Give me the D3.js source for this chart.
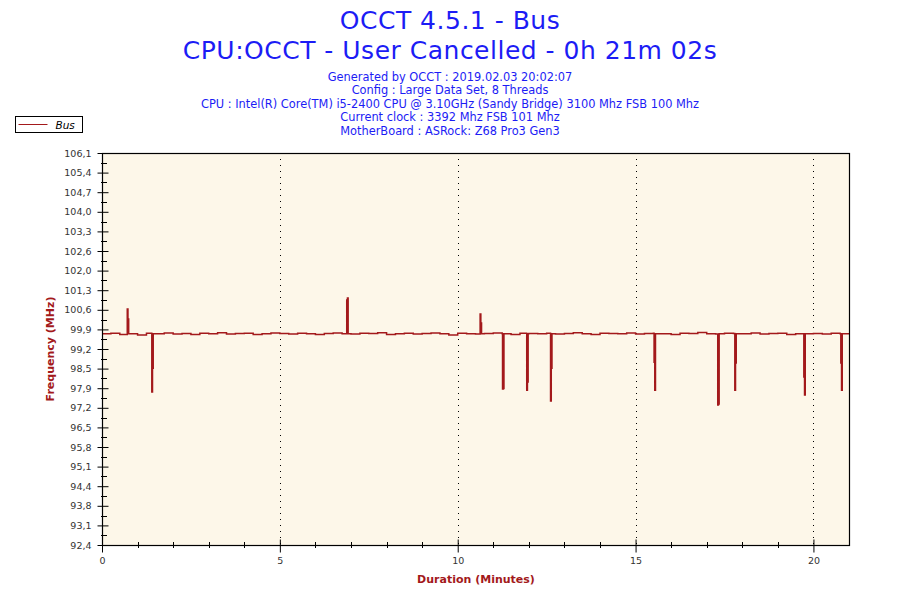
<!DOCTYPE html>
<html>
  <head>
    <style>
      body { margin: 0; background: #fff; }
      svg text { font-family: "DejaVu Sans", sans-serif; }
    </style>
  </head>
  <body>
    <script src="https://d3js.org/d3.v7.min.js"></script>
    <script>
// titles
const TITLES = ['OCCT 4.5.1 - Bus', 'CPU:OCCT - User Cancelled - 0h 21m 02s'];
const SUBTITLES = [
  'Generated by OCCT : 2019.02.03 20:02:07',
  'Config : Large Data Set, 8 Threads',
  'CPU : Intel(R) Core(TM) i5-2400 CPU @ 3.10GHz (Sandy Bridge) 3100 Mhz FSB 100 Mhz',
  'Current clock : 3392 Mhz FSB 101 Mhz',
  'MotherBoard : ASRock: Z68 Pro3 Gen3'
];

// axes
const Y_LABELS = ['92,4','93,1','93,8','94,4','95,1','95,8','96,5','97,2','97,9','98,5','99,2',
  '99,9','100,6','101,3','102,0','102,6','103,3','104,0','104,7','105,4','106,1'];
const Y_MIN = 92.4, Y_MAX = 106.1;
const X_LABELS = [0, 5, 10, 15, 20];
const X_MAX = 21.0;

// bus frequency (MHz), one reading every 0.25 min
const SAMPLE_STEP = 0.25;
const BASE_FREQ = [
  99.78,99.80,99.76,99.79,99.74,99.80,99.78,99.81,99.77,99.79,
  99.76,99.80,99.78,99.82,99.77,99.79,99.80,99.76,99.78,99.81,
  99.79,99.77,99.80,99.78,99.76,99.79,99.81,99.78,99.77,99.80,
  99.79,99.82,99.76,99.78,99.80,99.77,99.79,99.81,99.78,99.74,
  99.80,99.78,99.77,99.79,99.81,99.78,99.76,99.80,99.79,99.78,
  99.80,99.77,99.79,99.82,99.78,99.76,99.80,99.79,99.78,99.81,
  99.77,99.79,99.80,99.78,99.76,99.80,99.79,99.83,99.78,99.77,
  99.80,99.79,99.78,99.81,99.77,99.79,99.80,99.76,99.78,99.80,
  99.79,99.77,99.80,99.78,99.79
];

// short glitches: time (min), first reading, second reading
const SPIKE_TIME   = [0.71, 1.40, 6.88, 10.63, 11.26, 11.94, 12.61, 15.52, 17.31, 17.79, 19.73, 20.77];
const SPIKE_FIRST  = [100.65, 97.75, 100.96, 100.47, 97.85, 97.81, 97.43, 98.79, 97.29, 97.81, 98.27, 98.76];
const SPIKE_SECOND = [100.30, 98.58, 101.03, 100.16, 97.87, 98.10, 98.58, 97.81, 97.33, 98.76, 97.64, 97.81];
const SPIKE_REST = 99.78;

const W = 900, H = 600;
const M = { left: 102, right: 849, top: 153, bottom: 545 };
const RED = '#a3191b';
const BLUE = '#1c1cf5';

const svg = d3.select('body').append('svg').attr('width', W).attr('height', H);

// build the series
let points = BASE_FREQ.map((v, i) => ({ t: i * SAMPLE_STEP, v: v }));
SPIKE_TIME.forEach((t, i) => {
  points.push({ t: t, v: SPIKE_FIRST[i] });
  points.push({ t: t + 0.02, v: SPIKE_SECOND[i] });
  points.push({ t: t + 0.04, v: SPIKE_REST });
});
points.sort((a, b) => a.t - b.t);

const x = d3.scaleLinear().domain([0, X_MAX]).range([M.left, M.right]);
const y = d3.scaleLinear().domain([Y_MIN, Y_MAX]).range([M.bottom, M.top]);
const yStep = (Y_MAX - Y_MIN) / (Y_LABELS.length - 1);
const yTicks = Y_LABELS.map((d, i) => Y_MIN + i * yStep);

// titles
svg.selectAll('.title')
  .data(TITLES)
  .enter().append('text')
  .attr('x', W / 2)
  .attr('y', (d, i) => 29 + i * 30)
  .attr('text-anchor', 'middle')
  .attr('font-size', 25)
  .attr('letter-spacing', 0.5)
  .attr('fill', BLUE)
  .text(d => d);

svg.selectAll('.sub')
  .data(SUBTITLES)
  .enter().append('text')
  .attr('x', W / 2)
  .attr('y', (d, i) => 80.5 + i * 13.6)
  .attr('text-anchor', 'middle')
  .attr('font-size', 11.4)
  .attr('fill', BLUE)
  .text(d => d);

// legend
const leg = svg.append('g').attr('transform', 'translate(15.5,116.5)');
leg.append('rect').attr('width', 67).attr('height', 16).attr('fill', '#fff').attr('stroke', '#000');
leg.append('line').attr('x1', 3).attr('x2', 32).attr('y1', 8).attr('y2', 8).attr('stroke', RED);
leg.append('text').attr('x', 40).attr('y', 12).attr('font-size', 10.5).attr('font-style', 'italic').text('Bus');

// plot area
svg.append('rect')
  .attr('x', M.left).attr('y', M.top)
  .attr('width', M.right - M.left).attr('height', M.bottom - M.top)
  .attr('fill', '#fdf7e9');

// vertical dotted grid
svg.append('g').selectAll('line')
  .data(X_LABELS.filter(d => d > 0))
  .enter().append('line')
  .attr('x1', d => Math.round(x(d)) + 0.5).attr('x2', d => Math.round(x(d)) + 0.5)
  .attr('y1', M.top).attr('y2', M.bottom)
  .attr('stroke', '#000')
  .attr('stroke-dasharray', '1,5');

// series
const line = d3.line().curve(d3.curveStepAfter).x(d => x(d.t)).y(d => y(d.v));
svg.append('path')
  .datum(points)
  .attr('fill', 'none')
  .attr('stroke', RED)
  .attr('stroke-width', 1.5)
  .attr('d', line);

// frame
svg.append('rect')
  .attr('x', M.left + 0.5).attr('y', M.top + 0.5)
  .attr('width', M.right - M.left).attr('height', M.bottom - M.top)
  .attr('fill', 'none').attr('stroke', '#000').attr('stroke-width', 1.2);

// y axis
const yAxis = d3.axisLeft(y)
  .tickValues(yTicks)
  .tickFormat((d, i) => Y_LABELS[i])
  .tickSize(5)
  .tickPadding(6);
const gy = svg.append('g').attr('transform', `translate(${M.left + 0.5},0)`).call(yAxis);
gy.select('.domain').remove();
gy.selectAll('.tick line').attr('x2', 6).attr('x1', -5);
gy.selectAll('text').attr('font-size', 9.5).attr('fill', '#333').attr('font-family', 'DejaVu Sans');

// minor y ticks
svg.append('g').selectAll('line')
  .data(yTicks.slice(0, -1).map(d => d + yStep / 2))
  .enter().append('line')
  .attr('x1', M.left - 1).attr('x2', M.left + 5)
  .attr('y1', d => Math.round(y(d)) + 0.5).attr('y2', d => Math.round(y(d)) + 0.5)
  .attr('stroke', '#000');

// x axis
const xAxis = d3.axisBottom(x)
  .tickValues(X_LABELS)
  .tickFormat(d => d)
  .tickSize(7)
  .tickPadding(5);
const gx = svg.append('g').attr('transform', `translate(0,${M.bottom + 0.5})`).call(xAxis);
gx.select('.domain').remove();
gx.selectAll('.tick line').attr('y1', -6).attr('y2', 7);
gx.selectAll('text').attr('font-size', 9.5).attr('fill', '#333').attr('font-family', 'DejaVu Sans');

// minor x ticks
svg.append('g').selectAll('line')
  .data(d3.range(1, 21).filter(d => d % 5 !== 0))
  .enter().append('line')
  .attr('x1', d => Math.round(x(d)) + 0.5).attr('x2', d => Math.round(x(d)) + 0.5)
  .attr('y1', M.bottom - 3).attr('y2', M.bottom + 3)
  .attr('stroke', '#000');

// axis titles
svg.append('text')
  .attr('transform', `translate(54,${(M.top + M.bottom) / 2}) rotate(-90)`)
  .attr('text-anchor', 'middle')
  .attr('font-size', 11)
  .attr('font-weight', 'bold')
  .attr('fill', RED)
  .text('Frequency (MHz)');

svg.append('text')
  .attr('x', 476)
  .attr('y', 583)
  .attr('text-anchor', 'middle')
  .attr('font-size', 11)
  .attr('font-weight', 'bold')
  .attr('fill', RED)
  .text('Duration (Minutes)');
    </script>
  </body>
</html>
